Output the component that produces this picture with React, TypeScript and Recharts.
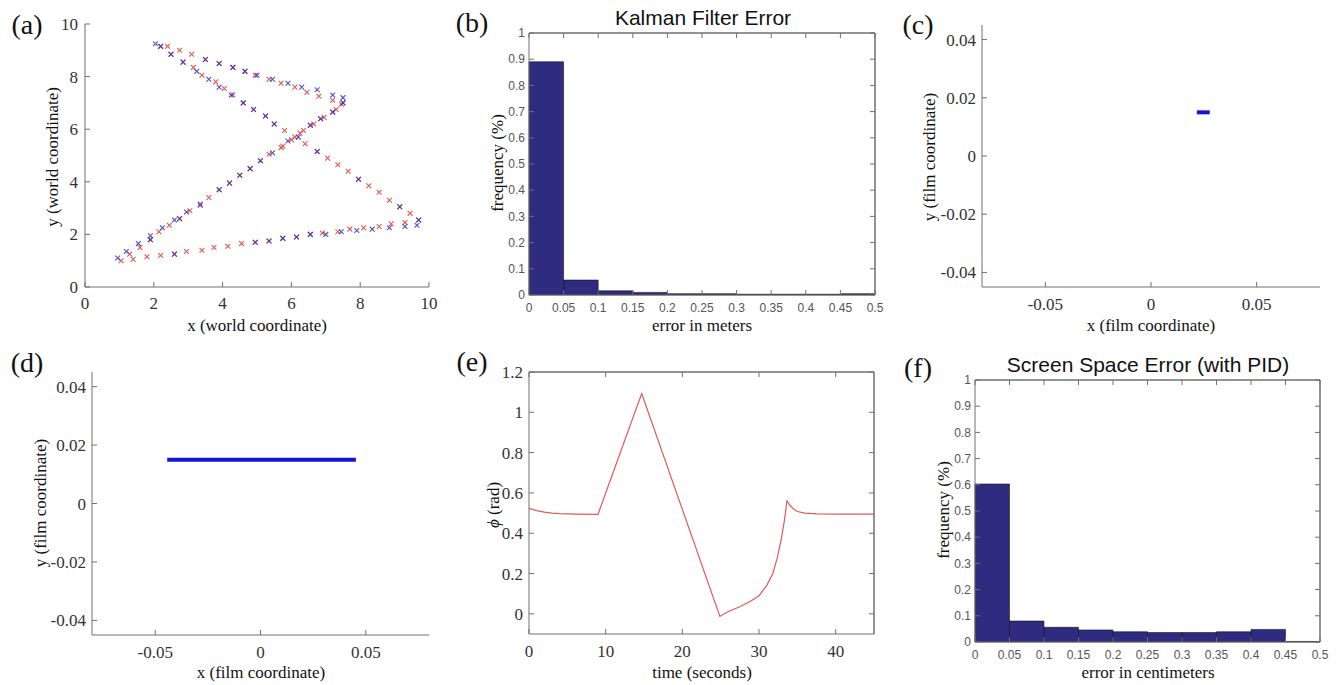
import React from "react";
import {
  ScatterChart,
  Scatter,
  ComposedChart,
  Bar,
  LineChart,
  Line,
  XAxis,
  YAxis,
  ReferenceLine,
} from "recharts";

/* ── data ─────────────────────────────────────────────── */
// (a) tracked positions, red = estimate, blue = measurement
const redX = [1.05, 1.3, 1.6, 1.9, 2.15, 2.45, 2.75, 3.05, 3.35, 3.6, 3.9, 4.2, 4.5, 4.8, 5.1, 5.35, 5.7, 5.75, 6.0, 6.1, 6.25, 6.35, 6.55, 6.65, 6.85, 6.95, 7.2, 7.3, 7.45, 7.5,
  2.2, 2.4, 2.5, 2.75, 3.1, 3.5, 3.9, 4.3, 4.65, 4.95, 5.35, 5.7, 6.1, 6.45, 6.8, 7.2,
  2.85, 3.15, 3.4, 3.8, 4.05, 4.3, 4.6, 4.9, 5.25, 5.5, 5.8, 6.4, 6.75, 7.05, 7.35, 7.65, 7.95, 8.25, 8.55, 8.85, 9.15, 9.45, 9.7,
  9.3, 8.9, 8.55, 8.1, 7.7, 7.35, 6.9, 6.55, 6.15, 5.75, 5.35, 4.95, 4.55, 4.15, 3.75, 3.4, 2.95, 2.6, 2.2, 1.8, 1.4];
const redY = [1.0, 1.25, 1.5, 1.8, 2.1, 2.35, 2.6, 2.9, 3.1, 3.4, 3.7, 3.95, 4.25, 4.5, 4.8, 5.05, 5.3, 5.35, 5.6, 5.7, 5.85, 5.95, 6.15, 6.2, 6.4, 6.45, 6.65, 6.75, 6.95, 7.0,
  9.15, 9.15, 8.85, 9.0, 8.85, 8.65, 8.5, 8.35, 8.2, 8.05, 7.9, 7.75, 7.6, 7.4, 7.25, 7.1,
  8.55, 8.35, 8.05, 7.8, 7.55, 7.3, 7.0, 6.75, 6.5, 6.2, 5.95, 5.45, 5.15, 4.9, 4.65, 4.4, 4.1, 3.85, 3.6, 3.3, 3.05, 2.8, 2.55,
  2.45, 2.4, 2.3, 2.25, 2.2, 2.1, 2.05, 2.0, 1.9, 1.85, 1.75, 1.7, 1.65, 1.55, 1.5, 1.4, 1.35, 1.25, 1.2, 1.15, 1.05];
const blueX = [0.95, 1.2, 1.55, 1.9, 1.9, 2.25, 2.6, 2.75, 2.95, 3.35, 3.9, 4.2, 4.5, 4.8, 5.1, 5.45, 5.9, 6.2, 6.55, 6.85, 7.2, 7.5,
  2.05, 2.2, 2.5, 2.85, 3.5, 3.9, 4.3, 4.65, 5.0, 5.45, 5.9, 6.3, 6.75, 7.2, 7.5,
  3.25, 3.6, 3.9, 4.25, 4.6, 4.9, 5.25, 5.5, 6.75, 7.95, 9.15, 9.7,
  9.65, 9.3, 8.85, 8.35, 7.9, 7.45, 7.0, 6.55, 6.15, 5.75, 5.35, 4.95, 2.6];
const blueY = [1.1, 1.35, 1.65, 1.95, 1.8, 2.25, 2.55, 2.6, 2.85, 3.15, 3.7, 3.95, 4.25, 4.5, 4.8, 5.1, 5.55, 5.7, 6.15, 6.4, 6.65, 7.0,
  9.25, 9.15, 8.85, 8.55, 8.65, 8.5, 8.35, 8.2, 8.05, 7.9, 7.75, 7.6, 7.5, 7.3, 7.2,
  8.2, 7.9, 7.6, 7.3, 7.0, 6.75, 6.5, 6.2, 5.15, 4.1, 3.05, 2.55,
  2.35, 2.3, 2.25, 2.2, 2.15, 2.1, 2.0, 2.0, 1.9, 1.85, 1.75, 1.7, 1.25];

// (b) Kalman filter error histogram
const binEdges = [0, 0.05, 0.1, 0.15, 0.2, 0.25, 0.3, 0.35, 0.4, 0.45, 0.5];
const kalmanFreq = [0.89, 0.057, 0.016, 0.01, 0.005, 0.005, 0.003, 0.003, 0.003, 0.005];
const freqTicks = [0, 0.1, 0.2, 0.3, 0.4, 0.5, 0.6, 0.7, 0.8, 0.9, 1];

// (c) film coordinates, single target
const filmCX = [0.0217, 0.0278];
const filmCY = [0.015, 0.015];
// (d) film coordinates, moving target
const filmDX = [-0.0443, -0.033, -0.012, 0.0, 0.011, 0.03, 0.0453];
const filmDY = [0.015, 0.015, 0.015, 0.015, 0.015, 0.015, 0.015];
const filmXTicks = [-0.05, 0, 0.05];
const filmYTicks = [-0.04, -0.02, 0, 0.02, 0.04];

// (e) phi over time
const time = [0, 1, 2, 3, 4, 6, 9, 14.7, 24.9, 26, 27.5, 29, 30, 31, 31.8, 32.4, 32.9, 33.3, 33.65, 34, 34.5, 35, 36, 37.5, 40, 45];
const phi = [0.523, 0.512, 0.505, 0.5, 0.497, 0.495, 0.494, 1.093, -0.013, 0.012, 0.035, 0.065, 0.09, 0.14, 0.2, 0.28, 0.37, 0.46, 0.56, 0.54, 0.52, 0.508, 0.5, 0.496, 0.495, 0.495];
const timeTicks = [0, 10, 20, 30, 40];
const phiTicks = [0, 0.2, 0.4, 0.6, 0.8, 1, 1.2];

// (f) screen space error histogram
const screenFreq = [0.603, 0.08, 0.056, 0.046, 0.039, 0.036, 0.036, 0.039, 0.048, 0.002];

/* ── styles ───────────────────────────────────────────── */
const SERIF = "'Liberation Serif', 'Times New Roman', serif";
const SANS = "'Liberation Sans', Arial, sans-serif";
const AXIS = "#707070";
const HIST = "#2e2b80";

const serifTick = { fontSize: 17, fill: "#333", fontFamily: SERIF };
const sansTick = { fontSize: 12, fill: "#555", fontFamily: SANS };

type Rect = { l: number; t: number; r: number; b: number };

function frame(p: Rect) {
  return {
    left: p.l - 70,
    top: p.t - 10,
    width: 70 + (p.r - p.l) + 10,
    height: 10 + (p.b - p.t) + 50,
  };
}
const MARGIN = { top: 10, right: 10, left: 0, bottom: 0 };
// boxed panels carry a 1px top / right axis
const BOX_MARGIN = { top: 9, right: 9, left: 0, bottom: 0 };

function Panel({ p, children }: { p: Rect; children: (w: number, h: number) => React.ReactNode }) {
  const f = frame(p);
  return (
    <div style={{ position: "absolute", left: f.left, top: f.top, width: f.width, height: f.height }}>
      {children(f.width, f.height)}
    </div>
  );
}

function Txt({ x, y, size, font, rotate, children }: any) {
  return (
    <div
      style={{
        position: "absolute",
        left: x,
        top: y,
        transform: `translate(-50%, -50%)${rotate ? " rotate(-90deg)" : ""}`,
        fontSize: size,
        fontFamily: font,
        whiteSpace: "nowrap",
        color: "#111",
        lineHeight: 1,
      }}
    >
      {children}
    </div>
  );
}

const xMark = (color: string) => (props: any) => {
  const { cx, cy } = props;
  const s = 2.4;
  return (
    <path
      d={`M${cx - s},${cy - s}L${cx + s},${cy + s}M${cx - s},${cy + s}L${cx + s},${cy - s}`}
      stroke={color}
      strokeWidth={1.1}
      fill="none"
    />
  );
};

const blank = () => "";
const fmt = (v: number) => String(v);

/* ── panel rects ──────────────────────────────────────── */
const PA: Rect = { l: 85, t: 24, r: 429, b: 287 };
const PB: Rect = { l: 529, t: 33, r: 875, b: 295 };
const PC: Rect = { l: 982, t: 25, r: 1320, b: 287 };
const PD: Rect = { l: 92, t: 372, r: 429, b: 635 };
const PE: Rect = { l: 529, t: 372, r: 874, b: 634 };
const PF: Rect = { l: 975, t: 380, r: 1320, b: 642 };

function Histogram({ p, freq }: { p: Rect; freq: number[] }) {
  const data = freq.map((f, i) => ({ mid: (binEdges[i] + binEdges[i + 1]) / 2, f }));
  const barW = (p.r - p.l) / freq.length - 0.05;
  return (
    <Panel p={p}>
      {(w, h) => (
        <ComposedChart width={w} height={h} data={data} margin={BOX_MARGIN} barCategoryGap={0} barGap={0}>
          <XAxis dataKey="mid" type="number" domain={[0, 0.5]} ticks={binEdges} height={50}
            stroke={AXIS} tickSize={-5} tickMargin={13} tick={sansTick} tickFormatter={fmt} />
          <XAxis xAxisId="top" dataKey="mid" orientation="top" type="number" domain={[0, 0.5]} ticks={binEdges} height={1}
            stroke={AXIS} tickSize={-5} tickFormatter={blank} />
          <YAxis type="number" domain={[0, 1]} ticks={freqTicks} width={70}
            stroke={AXIS} tickSize={-5} tickMargin={9} tick={sansTick} tickFormatter={fmt} />
          <YAxis yAxisId="r" orientation="right" type="number" domain={[0, 1]} ticks={freqTicks} width={1}
            stroke={AXIS} tickSize={-5} tickFormatter={blank} />
          <Bar dataKey="f" barSize={barW} fill={HIST} stroke="#111" strokeWidth={0.6} isAnimationActive={false} />
          {/* invisible twin so the top / right box axes are in use */}
          <Line xAxisId="top" yAxisId="r" dataKey="f" stroke="none" dot={false} activeDot={false} isAnimationActive={false} />
          <ReferenceLine x={0.5} stroke={AXIS} />
          <ReferenceLine y={1} stroke={AXIS} />
        </ComposedChart>
      )}
    </Panel>
  );
}

function FilmPlot({ p, xs, ys }: { p: Rect; xs: number[]; ys: number[] }) {
  const data = xs.map((x, i) => ({ x, y: ys[i] }));
  return (
    <Panel p={p}>
      {(w, h) => (
        <ScatterChart width={w} height={h} margin={MARGIN}>
          <XAxis type="number" dataKey="x" domain={[-0.08, 0.08]} ticks={filmXTicks} height={50}
            stroke={AXIS} tickSize={-5} tickMargin={16} tick={serifTick} tickFormatter={fmt} />
          <YAxis type="number" dataKey="y" domain={[-0.045, 0.045]} ticks={filmYTicks} width={70}
            stroke={AXIS} tickSize={-5} tickMargin={11} tick={serifTick} tickFormatter={fmt} />
          <Scatter data={data} fill="#1414d6" line={{ stroke: "#1414d6", strokeWidth: 4 }} shape={() => <g />}
            isAnimationActive={false} />
        </ScatterChart>
      )}
    </Panel>
  );
}

export default function App() {
  const red = redX.map((x, i) => ({ x, y: redY[i] }));
  const blue = blueX.map((x, i) => ({ x, y: blueY[i] }));
  const phiData = time.map((t, i) => ({ t, phi: phi[i] }));
  const worldTicks = [0, 2, 4, 6, 8, 10];

  return (
    <div style={{ position: "absolute", left: 0, top: 0, width: 1342, height: 685, background: "#fff", overflow: "hidden" }}>
      {/* (a) world coordinates */}
      <Panel p={PA}>
        {(w, h) => (
          <ScatterChart width={w} height={h} margin={MARGIN}>
            <XAxis type="number" dataKey="x" domain={[0, 10]} ticks={worldTicks} height={50}
              stroke={AXIS} tickSize={-5} tickMargin={15} tick={serifTick} />
            <YAxis type="number" dataKey="y" domain={[0, 10]} ticks={worldTicks} width={70}
              stroke={AXIS} tickSize={-5} tickMargin={12} tick={serifTick} />
            <Scatter data={red} shape={xMark("rgba(226,70,66,0.9)")} isAnimationActive={false} />
            <Scatter data={blue} shape={xMark("rgba(50,50,190,0.85)")} isAnimationActive={false} />
          </ScatterChart>
        )}
      </Panel>
      <Txt x={27} y={25} size={28} font={SERIF}>(a)</Txt>
      <Txt x={257} y={325} size={17} font={SERIF}>x (world coordinate)</Txt>
      <Txt x={52} y={157} size={17} font={SERIF} rotate>y (world coordinate)</Txt>

      {/* (b) Kalman filter error */}
      <Histogram p={PB} freq={kalmanFreq} />
      <Txt x={472} y={23} size={28} font={SERIF}>(b)</Txt>
      <Txt x={703} y={17} size={21} font={SANS}>Kalman Filter Error</Txt>
      <Txt x={702} y={325} size={17} font={SERIF}>error in meters</Txt>
      <Txt x={497} y={163} size={17} font={SERIF} rotate>frequency (%)</Txt>

      {/* (c) film coordinates */}
      <FilmPlot p={PC} xs={filmCX} ys={filmCY} />
      <Txt x={918} y={25} size={28} font={SERIF}>(c)</Txt>
      <Txt x={1151} y={325} size={17} font={SERIF}>x (film coordinate)</Txt>
      <Txt x={929} y={157} size={17} font={SERIF} rotate>y (film coordinate)</Txt>

      {/* (d) film coordinates */}
      <FilmPlot p={PD} xs={filmDX} ys={filmDY} />
      <Txt x={27} y={363} size={28} font={SERIF}>(d)</Txt>
      <Txt x={261} y={672} size={17} font={SERIF}>x (film coordinate)</Txt>
      <Txt x={40} y={503} size={17} font={SERIF} rotate>y (film coordinate)</Txt>

      {/* (e) phi over time */}
      <Panel p={PE}>
        {(w, h) => (
          <LineChart width={w} height={h} data={phiData} margin={BOX_MARGIN}>
            <XAxis type="number" dataKey="t" domain={[0, 45]} ticks={timeTicks} height={50}
              stroke={AXIS} tickSize={-5} tickMargin={16} tick={serifTick} />
            <XAxis xAxisId="top" dataKey="t" orientation="top" type="number" domain={[0, 45]} ticks={timeTicks} height={1}
              stroke={AXIS} tickSize={-5} tickFormatter={blank} />
            <YAxis type="number" domain={[-0.1, 1.2]} ticks={phiTicks} width={70}
              stroke={AXIS} tickSize={-5} tickMargin={11} tick={serifTick} tickFormatter={fmt} />
            <YAxis yAxisId="r" orientation="right" type="number" domain={[-0.1, 1.2]} ticks={phiTicks} width={1}
              stroke={AXIS} tickSize={-5} tickFormatter={blank} />
            <Line type="linear" dataKey="phi" stroke="#dc5c5c" strokeWidth={1.2} dot={false} isAnimationActive={false} />
            <Line xAxisId="top" yAxisId="r" dataKey="phi" stroke="none" dot={false} activeDot={false} isAnimationActive={false} />
            <ReferenceLine x={45} stroke={AXIS} />
            <ReferenceLine y={1.2} stroke={AXIS} />
          </LineChart>
        )}
      </Panel>
      <Txt x={472} y={362} size={28} font={SERIF}>(e)</Txt>
      <Txt x={702} y={672} size={17} font={SERIF}>time (seconds)</Txt>
      <Txt x={493} y={505} size={17} font={SERIF} rotate><i>ϕ</i> (rad)</Txt>

      {/* (f) screen space error */}
      <Histogram p={PF} freq={screenFreq} />
      <Txt x={918} y={368} size={28} font={SERIF}>(f)</Txt>
      <Txt x={1148} y={364} size={21} font={SANS}>Screen Space Error (with PID)</Txt>
      <Txt x={1148} y={672} size={17} font={SERIF}>error in centimeters</Txt>
      <Txt x={943} y={510} size={17} font={SERIF} rotate>frequency (%)</Txt>
    </div>
  );
}
